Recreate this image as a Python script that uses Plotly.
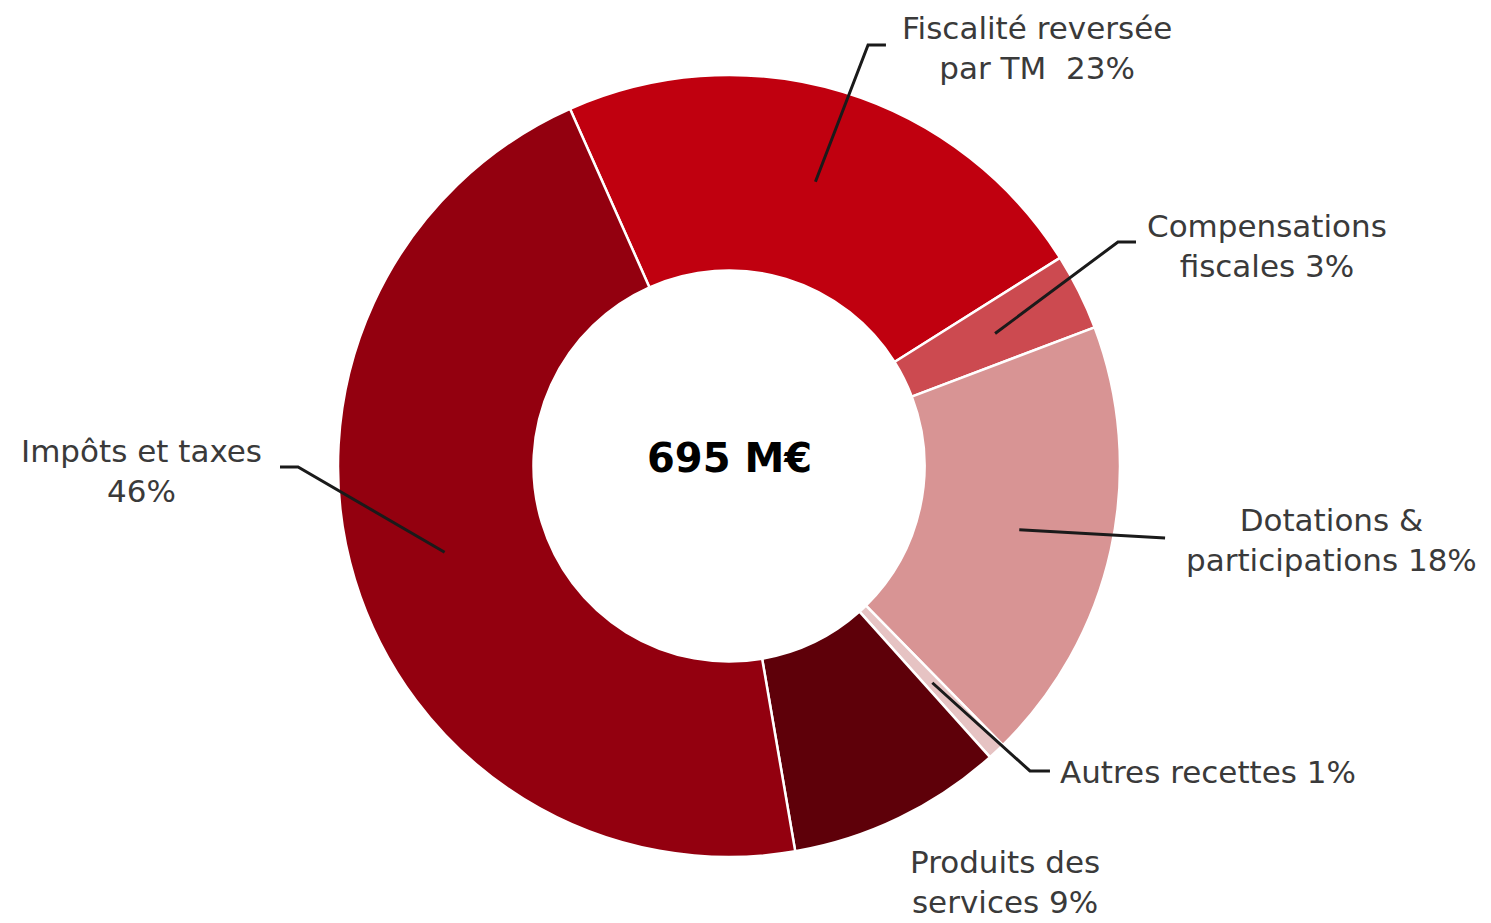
import math
import plotly.graph_objs as go

# Recettes de fonctionnement (M€)
labels = ['Fiscalité reversée par TM', 'Compensations fiscales', 'Dotations & participations',
          'Autres recettes', 'Produits des services', 'Impôts et taxes']
values = [158, 22, 128, 5, 62, 320]
colors = ['#C0000F', '#CC4A50', '#D89494', '#E6C3C3', '#5E0009', '#93000F']
label_texts = ['Fiscalité reversée<br>par TM  23%', 'Compensations<br>fiscales 3%',
               'Dotations &<br>participations 18%', 'Autres recettes 1%',
               'Produits des<br>services 9%', 'Impôts et taxes<br>46%']
total_text = '<b>695 M€</b>'

W, H = 1491, 923
cx, cy, R = 729, 466, 391
rotation = -24

fig = go.Figure()
fig.add_trace(
    go.Pie(
        labels=labels, values=values, hole=0.5, sort=False,
        direction='clockwise', rotation=rotation,
        marker=dict(colors=colors, line=dict(color='white', width=2.5)),
        textinfo='none', hoverinfo='label+percent',
        domain=dict(x=[(cx - R) / W, (cx + R) / W], y=[(H - cy - R) / H, (H - cy + R) / H]),
        showlegend=False
    )
)


def px_to_paper(x, y):
    return x / W, 1 - y / H


# label anchors (pixels) and elbow points of leader lines
label_pos = [(1037, 48, 'center'), (1267, 246, 'center'), (1331, 540, 'center'),
             (1058, 772, 'left'), (1005, 882, 'center'), (141, 471, 'center')]
elbows = [[(868, 45), (886, 45)], [(1118, 242), (1136, 242)], [(1165, 538)],
          [(1030, 771), (1050, 771)], None, [(298, 467), (280, 467)]]

total = sum(values)
cum = 0
for i, v in enumerate(values):
    mid = rotation + (cum + v / 2) / total * 360
    cum += v
    if elbows[i] is not None:
        r_in = 0.76 * R
        pts = [(cx + r_in * math.sin(math.radians(mid)), cy - r_in * math.cos(math.radians(mid)))] + elbows[i]
        path = 'M ' + ' L '.join('%.4f,%.4f' % px_to_paper(*p) for p in pts)
        fig.add_shape(type='path', path=path, xref='paper', yref='paper',
                      line=dict(color='#1a1a1a', width=3))
    lx, ly, anchor = label_pos[i]
    ax, ay = px_to_paper(lx, ly)
    fig.add_annotation(x=ax, y=ay, xref='paper', yref='paper', text=label_texts[i],
                       showarrow=False, xanchor=anchor, yanchor='middle', align='center',
                       font=dict(size=31, color='#3a3a3a', family='DejaVu Sans'))

fig.add_annotation(x=cx / W, y=1 - (cy - 8) / H, xref='paper', yref='paper', text=total_text,
                   showarrow=False, font=dict(size=40, color='black', family='DejaVu Sans'))

fig.update_layout(
    width=W, height=H,
    margin=dict(l=0, r=0, t=0, b=0),
    plot_bgcolor='white',
    paper_bgcolor='white',
)

# the page's default body margin would shift the chart by 8px
fig.write_html("out.html", config={'displayModeBar': False},
               post_script="document.body.style.margin = '0';")
